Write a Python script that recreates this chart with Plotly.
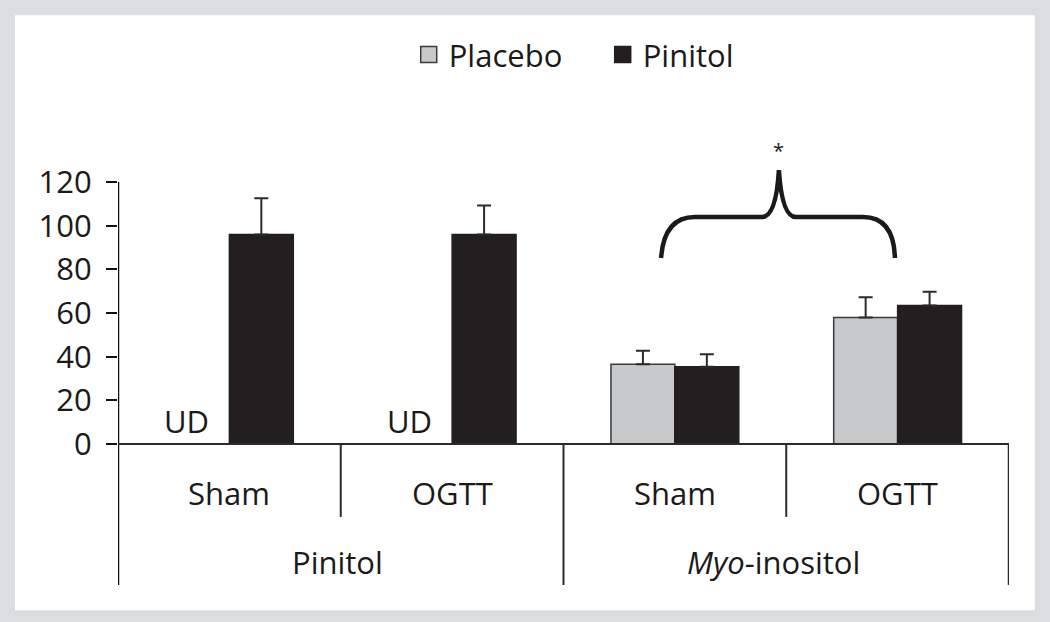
import plotly.graph_objects as go

# ---- data ----
conditions = ["Sham", "OGTT", "Sham", "OGTT"]
groups = ["Pinitol", "<i>Myo</i>-inositol"]
placebo = [None, None, 36.5, 57.9]
placebo_err = [0, 0, 6.2, 9.3]
pinitol = [96.0, 96.0, 35.4, 63.4]
pinitol_err = [16.6, 13.3, 5.7, 6.4]
y_ticks = [0, 20, 40, 60, 80, 100, 120]
ud_label = "UD"

x_pos = list(range(len(conditions)))
FONT = "Open Sans"
TXT = "#1a1a1a"
DARK = "#231f20"
GREY = "#c8c9cb"
LINE = "#2b2b2b"
LABEL_SIZE = 31

Y_MIN, Y_MAX = -64.6, 157.6
SUB_DIV_BOTTOM = -33.4
COND_LABEL_Y = -22.4
GROUP_LABEL_Y = -54.0

fig = go.Figure()
fig.add_trace(go.Bar(
    name="Placebo", x=x_pos, y=placebo, showlegend=False,
    marker=dict(color=GREY, line=dict(color="#3a3a3a", width=1.5)),
    error_y=dict(type="data", array=placebo_err, arrayminus=[0]*4, symmetric=False,
                 color=LINE, thickness=2, width=7),
))
fig.add_trace(go.Bar(
    name="Pinitol", x=x_pos, y=pinitol, showlegend=False,
    marker=dict(color=DARK, line=dict(color=DARK, width=1.5)),
    error_y=dict(type="data", array=pinitol_err, arrayminus=[0]*4, symmetric=False,
                 color=LINE, thickness=2, width=7),
))
# legend entries (larger square swatches)
fig.add_trace(go.Scatter(name="Placebo", x=[None], y=[None], mode="markers",
                         marker=dict(symbol="square", size=17, color=GREY,
                                     line=dict(color="#3a3a3a", width=1.5))))
fig.add_trace(go.Scatter(name="Pinitol", x=[None], y=[None], mode="markers",
                         marker=dict(symbol="square", size=17, color=DARK,
                                     line=dict(color=DARK, width=1.5))))

shapes = []
# outer white panel
shapes.append(dict(type="rect", xref="paper", yref="paper",
                   x0=-0.1156, x1=1.029, y0=-0.052, y1=1.175,
                   fillcolor="white", line=dict(width=0), layer="below"))
# y-axis line extended through label area
shapes.append(dict(type="line", xref="x", yref="y", x0=-0.5, x1=-0.5, y0=Y_MIN, y1=max(y_ticks),
                   line=dict(color="#111", width=2.5)))
# baseline
shapes.append(dict(type="line", xref="x", yref="y", x0=-0.5, x1=len(conditions)-0.5, y0=0, y1=0,
                   line=dict(color=LINE, width=2)))
# dividers between conditions / groups
for i in range(len(conditions) - 1):
    bottom = Y_MIN if (i % 2 == 1) else SUB_DIV_BOTTOM
    shapes.append(dict(type="line", xref="x", yref="y", x0=i+0.5, x1=i+0.5, y0=0, y1=bottom,
                       line=dict(color=LINE, width=2)))
shapes.append(dict(type="line", xref="x", yref="y", x0=len(conditions)-0.5, x1=len(conditions)-0.5,
                   y0=0, y1=Y_MIN, line=dict(color=LINE, width=2.5)))

# curly bracket over the Myo-inositol group
bx0, bx1 = 1.938, 2.988
bmid = 2.467
by0, by1, bpk = 85.2, 104.0, 125.5
path = (f"M {bx0},{by0} Q {bx0+0.013},{by1} {bx0+0.152},{by1} "
        f"L {bmid-0.076},{by1} Q {bmid-0.013},{by1} {bmid},{bpk} "
        f"Q {bmid+0.014},{by1} {bmid+0.076},{by1} "
        f"L {bx1-0.144},{by1} Q {bx1-0.005},{by1} {bx1},{by0}")
shapes.append(dict(type="path", xref="x", yref="y", path=path,
                   line=dict(color="#1a1a1a", width=4.5)))

annotations = []
for i, c in enumerate(conditions):
    annotations.append(dict(x=i, y=COND_LABEL_Y, text=c, showarrow=False, xref="x", yref="y",
                            font=dict(family=FONT, size=LABEL_SIZE, color=TXT)))
for g, label in enumerate(groups):
    annotations.append(dict(x=2*g+0.5, y=GROUP_LABEL_Y, text=label, showarrow=False, xref="x", yref="y",
                            xshift=-10*g - 3, font=dict(family=FONT, size=LABEL_SIZE, color=TXT)))
for i, v in enumerate(placebo):
    if v is None:
        annotations.append(dict(x=i-0.143, y=0, text=ud_label, showarrow=False, xref="x", yref="y",
                                yanchor="bottom", xshift=-11, yshift=0,
                                font=dict(family=FONT, size=LABEL_SIZE, color=TXT)))
annotations.append(dict(x=bmid, y=bpk+9, text="*", showarrow=False, xref="x", yref="y",
                        font=dict(family=FONT, size=20, color=TXT)))

fig.update_layout(
    width=1050, height=622,
    margin=dict(l=118, r=41, t=100, b=37),
    paper_bgcolor="#dcdde0", plot_bgcolor="rgba(0,0,0,0)",
    barmode="group", bargap=0.426, bargroupgap=0,
    font=dict(family=FONT, size=28, color=TXT),
    showlegend=True,
    legend=dict(orientation="h", x=0.544, xanchor="center", y=1.093, yanchor="middle",
                entrywidth=149, itemwidth=30,
                font=dict(family=FONT, size=LABEL_SIZE, color=TXT), bgcolor="rgba(0,0,0,0)"),
    xaxis=dict(range=[-0.5, len(conditions)-0.5], showticklabels=False, showgrid=False,
               zeroline=False, showline=False, ticks=""),
    yaxis=dict(range=[Y_MIN, Y_MAX], tickvals=y_ticks, ticks="outside", ticklen=11,
               tickwidth=2, tickcolor="#111", showgrid=False, zeroline=False, showline=False,
               ticklabelstandoff=8,
               tickfont=dict(family=FONT, size=31, color=TXT)),
    shapes=shapes, annotations=annotations,
)

fig.write_html("out.html", config={"displayModeBar": False},
               post_script="document.body.style.margin='0';document.body.style.background='#dcdde0';")
